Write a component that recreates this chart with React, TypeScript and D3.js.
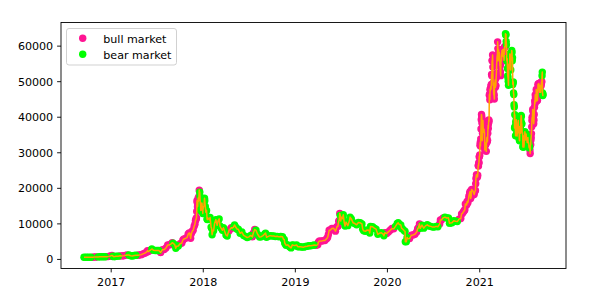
import React from "react";
import * as d3 from "d3";

// Bitcoin closing prices (date, USD)
const btcCloses: [string, number][] = [
  ["2016-09-15", 607], ["2016-09-22", 596], ["2016-09-29", 605], ["2016-10-06", 612],
  ["2016-10-13", 636], ["2016-10-20", 630], ["2016-10-27", 688], ["2016-11-03", 688],
  ["2016-11-10", 716], ["2016-11-17", 740], ["2016-11-24", 736], ["2016-12-01", 755],
  ["2016-12-08", 768], ["2016-12-15", 778], ["2016-12-22", 861], ["2016-12-29", 973],
  ["2017-01-04", 1130], ["2017-01-08", 908], ["2017-01-11", 780], ["2017-01-15", 822],
  ["2017-01-22", 922], ["2017-01-29", 920], ["2017-02-05", 1015], ["2017-02-12", 999],
  ["2017-02-19", 1050], ["2017-02-26", 1150], ["2017-03-05", 1270], ["2017-03-12", 1230],
  ["2017-03-19", 1020], ["2017-03-26", 965], ["2017-04-02", 1095], ["2017-04-09", 1180],
  ["2017-04-16", 1180], ["2017-04-23", 1240], ["2017-04-30", 1350], ["2017-05-07", 1570],
  ["2017-05-14", 1770], ["2017-05-21", 2040], ["2017-05-25", 2450], ["2017-05-28", 2200],
  ["2017-06-04", 2520], ["2017-06-11", 2950], ["2017-06-18", 2560], ["2017-06-25", 2500],
  ["2017-07-02", 2500], ["2017-07-09", 2500], ["2017-07-16", 1930], ["2017-07-23", 2750],
  ["2017-07-30", 2760], ["2017-08-06", 3230], ["2017-08-13", 4060], ["2017-08-20", 4090],
  ["2017-08-27", 4380], ["2017-08-31", 4700], ["2017-09-03", 4580], ["2017-09-10", 4120],
  ["2017-09-14", 3150], ["2017-09-17", 3700], ["2017-09-24", 3780], ["2017-10-01", 4400],
  ["2017-10-08", 4600], ["2017-10-12", 5430], ["2017-10-15", 5680], ["2017-10-22", 5930],
  ["2017-10-29", 6140], ["2017-11-02", 7100], ["2017-11-05", 7360], ["2017-11-08", 7460],
  ["2017-11-12", 5950], ["2017-11-15", 7320], ["2017-11-19", 8030], ["2017-11-22", 8200],
  ["2017-11-26", 9330], ["2017-11-29", 9900], ["2017-12-01", 10900], ["2017-12-03", 11200],
  ["2017-12-04", 11500], ["2017-12-05", 11700], ["2017-12-06", 13500], ["2017-12-07", 16500],
  ["2017-12-08", 16000], ["2017-12-09", 14800], ["2017-12-10", 15000], ["2017-12-11", 16700],
  ["2017-12-12", 17300], ["2017-12-13", 16400], ["2017-12-14", 16600], ["2017-12-15", 17700],
  ["2017-12-16", 19500], ["2017-12-17", 19140], ["2017-12-18", 18900], ["2017-12-19", 17700],
  ["2017-12-20", 16000], ["2017-12-21", 15500], ["2017-12-22", 13800], ["2017-12-23", 14600],
  ["2017-12-24", 14000], ["2017-12-25", 13900], ["2017-12-26", 15900], ["2017-12-27", 15800],
  ["2017-12-28", 14600], ["2017-12-29", 14700], ["2017-12-30", 12900], ["2017-12-31", 14100],
  ["2018-01-02", 14800], ["2018-01-04", 15200], ["2018-01-06", 17200], ["2018-01-07", 16500],
  ["2018-01-09", 14900], ["2018-01-11", 13300], ["2018-01-14", 13800], ["2018-01-16", 11400],
  ["2018-01-17", 11200], ["2018-01-19", 11700], ["2018-01-21", 11500], ["2018-01-25", 11200],
  ["2018-01-28", 11800], ["2018-02-01", 9100], ["2018-02-03", 8800], ["2018-02-05", 6950],
  ["2018-02-08", 8200], ["2018-02-11", 8100], ["2018-02-15", 10200], ["2018-02-20", 11200],
  ["2018-02-25", 9600], ["2018-03-01", 10900], ["2018-03-05", 11400], ["2018-03-08", 9400],
  ["2018-03-12", 8900], ["2018-03-18", 8200], ["2018-03-22", 8900], ["2018-03-26", 8100],
  ["2018-04-01", 6900], ["2018-04-06", 6600], ["2018-04-12", 7900], ["2018-04-15", 8350],
  ["2018-04-22", 8900], ["2018-04-25", 8800], ["2018-05-01", 9100], ["2018-05-05", 9700],
  ["2018-05-10", 9050], ["2018-05-15", 8500], ["2018-05-20", 8500], ["2018-05-27", 7350],
  ["2018-06-03", 7700], ["2018-06-10", 6750], ["2018-06-17", 6500], ["2018-06-24", 6150],
  ["2018-07-01", 6350], ["2018-07-08", 6750], ["2018-07-15", 6350], ["2018-07-18", 7350],
  ["2018-07-24", 8400], ["2018-07-29", 8200], ["2018-08-05", 7000], ["2018-08-12", 6300],
  ["2018-08-19", 6400], ["2018-08-26", 6700], ["2018-09-02", 7200], ["2018-09-05", 7400],
  ["2018-09-09", 6250], ["2018-09-16", 6500], ["2018-09-23", 6700], ["2018-09-30", 6600],
  ["2018-10-07", 6600], ["2018-10-14", 6450], ["2018-10-21", 6500], ["2018-10-28", 6350],
  ["2018-11-04", 6450], ["2018-11-11", 6400], ["2018-11-15", 5650], ["2018-11-18", 5600],
  ["2018-11-20", 4600], ["2018-11-22", 4400], ["2018-11-25", 4000], ["2018-12-02", 4100],
  ["2018-12-09", 3600], ["2018-12-15", 3250], ["2018-12-20", 4100], ["2018-12-24", 4000],
  ["2018-12-30", 3900],
  ["2019-01-06", 4050], ["2019-01-10", 3650], ["2019-01-13", 3550], ["2019-01-20", 3550],
  ["2019-01-27", 3500], ["2019-02-03", 3450], ["2019-02-10", 3650], ["2019-02-17", 3700],
  ["2019-02-24", 3850], ["2019-03-03", 3850], ["2019-03-10", 3950], ["2019-03-17", 4050],
  ["2019-03-24", 4000], ["2019-03-31", 4100], ["2019-04-03", 4950], ["2019-04-07", 5200],
  ["2019-04-14", 5150], ["2019-04-21", 5300], ["2019-04-28", 5300], ["2019-05-05", 5800],
  ["2019-05-09", 6200], ["2019-05-12", 7000], ["2019-05-15", 8200], ["2019-05-19", 8200],
  ["2019-05-26", 8700], ["2019-06-02", 8750], ["2019-06-09", 7950], ["2019-06-16", 9300],
  ["2019-06-19", 9300], ["2019-06-22", 10700], ["2019-06-24", 11000], ["2019-06-26", 12900],
  ["2019-06-28", 12400], ["2019-06-30", 10800], ["2019-07-03", 11900], ["2019-07-07", 11450],
  ["2019-07-10", 12550], ["2019-07-14", 10300], ["2019-07-17", 9400], ["2019-07-21", 10500],
  ["2019-07-28", 9500], ["2019-08-04", 11000], ["2019-08-06", 11900], ["2019-08-11", 11400],
  ["2019-08-18", 10300], ["2019-08-25", 10100], ["2019-09-01", 9750], ["2019-09-08", 10400],
  ["2019-09-15", 10300], ["2019-09-22", 10000], ["2019-09-25", 8500], ["2019-09-29", 8050],
  ["2019-10-06", 7900], ["2019-10-13", 8300], ["2019-10-20", 8200], ["2019-10-23", 7450],
  ["2019-10-26", 9250], ["2019-11-03", 9200], ["2019-11-10", 8800], ["2019-11-17", 8500],
  ["2019-11-24", 7050], ["2019-12-01", 7400], ["2019-12-08", 7500], ["2019-12-15", 7100],
  ["2019-12-18", 6650], ["2019-12-22", 7500], ["2019-12-29", 7300],
  ["2020-01-05", 7750], ["2020-01-12", 8200], ["2020-01-19", 8700], ["2020-01-26", 8600],
  ["2020-02-02", 9300], ["2020-02-09", 10100], ["2020-02-13", 10300], ["2020-02-16", 9900],
  ["2020-02-23", 9700], ["2020-02-26", 8800], ["2020-03-01", 8550], ["2020-03-08", 8050],
  ["2020-03-11", 7900], ["2020-03-12", 4970], ["2020-03-16", 5000], ["2020-03-19", 6200],
  ["2020-03-22", 5800], ["2020-03-29", 5900], ["2020-04-05", 6800], ["2020-04-12", 6900],
  ["2020-04-19", 7100], ["2020-04-26", 7700], ["2020-04-30", 8650], ["2020-05-03", 8900],
  ["2020-05-07", 9950], ["2020-05-10", 8750], ["2020-05-17", 9650], ["2020-05-24", 8800],
  ["2020-05-31", 9450], ["2020-06-07", 9750], ["2020-06-14", 9400], ["2020-06-21", 9300],
  ["2020-06-28", 9100], ["2020-07-05", 9100], ["2020-07-12", 9300], ["2020-07-19", 9200],
  ["2020-07-26", 9950], ["2020-07-29", 11100], ["2020-08-02", 11100], ["2020-08-09", 11700],
  ["2020-08-16", 11900], ["2020-08-23", 11650], ["2020-08-30", 11700], ["2020-09-03", 10200],
  ["2020-09-06", 10250], ["2020-09-13", 10300], ["2020-09-20", 10900], ["2020-09-27", 10750],
  ["2020-10-04", 10650], ["2020-10-11", 11350], ["2020-10-18", 11500], ["2020-10-21", 12800],
  ["2020-10-25", 13000], ["2020-10-29", 13500], ["2020-11-01", 13750], ["2020-11-03", 14000],
  ["2020-11-05", 15600], ["2020-11-08", 15450], ["2020-11-10", 15300], ["2020-11-12", 16300],
  ["2020-11-15", 15950], ["2020-11-17", 16700], ["2020-11-19", 17800], ["2020-11-22", 18700],
  ["2020-11-24", 19100], ["2020-11-26", 17150], ["2020-11-28", 17700], ["2020-11-30", 19700],
  ["2020-12-03", 19400], ["2020-12-06", 19150], ["2020-12-10", 18250], ["2020-12-13", 19150],
  ["2020-12-15", 19400], ["2020-12-16", 21300], ["2020-12-17", 22800], ["2020-12-19", 23800],
  ["2020-12-21", 23500], ["2020-12-23", 23200], ["2020-12-24", 23700], ["2020-12-26", 26400],
  ["2020-12-27", 26300], ["2020-12-28", 27000], ["2020-12-29", 27300], ["2020-12-30", 28800],
  ["2020-12-31", 29000],
  ["2021-01-01", 29400], ["2021-01-02", 32100], ["2021-01-03", 32900], ["2021-01-04", 31900],
  ["2021-01-05", 33900], ["2021-01-06", 36700], ["2021-01-07", 39300], ["2021-01-08", 40800],
  ["2021-01-09", 40200], ["2021-01-10", 38300], ["2021-01-11", 33400], ["2021-01-12", 35500],
  ["2021-01-13", 37300], ["2021-01-14", 39100], ["2021-01-15", 36800], ["2021-01-17", 35800],
  ["2021-01-18", 36600], ["2021-01-19", 36000], ["2021-01-20", 35500], ["2021-01-21", 30800],
  ["2021-01-22", 32900], ["2021-01-23", 32100], ["2021-01-24", 32300], ["2021-01-26", 32500],
  ["2021-01-27", 30400], ["2021-01-28", 33100], ["2021-01-29", 34300], ["2021-01-31", 33100],
  ["2021-02-01", 33500], ["2021-02-02", 35500], ["2021-02-03", 37700], ["2021-02-04", 36800],
  ["2021-02-05", 38300], ["2021-02-06", 39200], ["2021-02-07", 38900], ["2021-02-08", 46200],
  ["2021-02-09", 46500], ["2021-02-10", 44900], ["2021-02-11", 47900], ["2021-02-12", 47500],
  ["2021-02-14", 48700], ["2021-02-15", 47900], ["2021-02-16", 49200], ["2021-02-17", 52000],
  ["2021-02-18", 51700], ["2021-02-19", 55900], ["2021-02-20", 56000], ["2021-02-21", 57500],
  ["2021-02-22", 54100], ["2021-02-23", 48900], ["2021-02-24", 49700], ["2021-02-25", 47000],
  ["2021-02-26", 46300], ["2021-02-27", 46200], ["2021-02-28", 45100], ["2021-03-01", 49600],
  ["2021-03-02", 48400], ["2021-03-03", 50500], ["2021-03-04", 48400], ["2021-03-05", 48800],
  ["2021-03-06", 48900], ["2021-03-07", 51000], ["2021-03-08", 52300], ["2021-03-09", 54800],
  ["2021-03-10", 56000], ["2021-03-11", 57300], ["2021-03-12", 57300], ["2021-03-13", 61200],
  ["2021-03-14", 59300], ["2021-03-15", 55900], ["2021-03-16", 56800], ["2021-03-17", 58900],
  ["2021-03-18", 57700], ["2021-03-19", 58300], ["2021-03-20", 58100], ["2021-03-21", 57400],
  ["2021-03-22", 54500], ["2021-03-23", 54400], ["2021-03-24", 52800], ["2021-03-25", 51700],
  ["2021-03-26", 55100], ["2021-03-27", 55900], ["2021-03-28", 55900], ["2021-03-29", 57700],
  ["2021-03-30", 58800], ["2021-03-31", 58800], ["2021-04-01", 58700], ["2021-04-02", 59000],
  ["2021-04-03", 57100], ["2021-04-04", 58200], ["2021-04-05", 59100], ["2021-04-06", 58000],
  ["2021-04-07", 56000], ["2021-04-08", 58100], ["2021-04-09", 58000], ["2021-04-10", 59800],
  ["2021-04-11", 59900], ["2021-04-12", 59800], ["2021-04-13", 63500], ["2021-04-14", 63100],
  ["2021-04-15", 63300], ["2021-04-16", 61300], ["2021-04-17", 60400], ["2021-04-18", 56200],
  ["2021-04-19", 55800], ["2021-04-20", 56500], ["2021-04-21", 53700], ["2021-04-22", 51700],
  ["2021-04-23", 51100], ["2021-04-24", 50100], ["2021-04-25", 49000], ["2021-04-26", 54000],
  ["2021-04-27", 55000], ["2021-04-28", 54800], ["2021-04-29", 53600], ["2021-04-30", 57800],
  ["2021-05-01", 57800], ["2021-05-02", 56600], ["2021-05-03", 57200], ["2021-05-04", 53300],
  ["2021-05-05", 57200], ["2021-05-06", 56400], ["2021-05-07", 57400], ["2021-05-08", 58800],
  ["2021-05-09", 58200], ["2021-05-10", 55900], ["2021-05-11", 56700], ["2021-05-12", 49200],
  ["2021-05-13", 49700], ["2021-05-14", 49900], ["2021-05-15", 46800], ["2021-05-16", 46400],
  ["2021-05-17", 43500], ["2021-05-18", 42900], ["2021-05-19", 37000], ["2021-05-20", 40700],
  ["2021-05-21", 37300], ["2021-05-22", 37500], ["2021-05-23", 34800], ["2021-05-24", 38700],
  ["2021-05-25", 38400], ["2021-05-26", 39300], ["2021-05-27", 38400], ["2021-05-28", 35700],
  ["2021-05-29", 34700], ["2021-05-30", 35700], ["2021-05-31", 37300], ["2021-06-01", 36700],
  ["2021-06-02", 37600], ["2021-06-03", 39100], ["2021-06-04", 36900], ["2021-06-05", 35500],
  ["2021-06-06", 35800], ["2021-06-07", 33600], ["2021-06-08", 33400], ["2021-06-09", 37400],
  ["2021-06-10", 36700], ["2021-06-11", 37300], ["2021-06-12", 35500], ["2021-06-13", 39100],
  ["2021-06-14", 40500], ["2021-06-15", 40200], ["2021-06-16", 38300], ["2021-06-17", 38100],
  ["2021-06-18", 35800], ["2021-06-19", 35500], ["2021-06-20", 35600], ["2021-06-21", 31600],
  ["2021-06-22", 31700], ["2021-06-23", 32500], ["2021-06-24", 34700], ["2021-06-25", 31600],
  ["2021-06-26", 32200], ["2021-06-27", 34600], ["2021-06-28", 34500], ["2021-06-29", 35900],
  ["2021-06-30", 35000], ["2021-07-01", 33600], ["2021-07-02", 33800], ["2021-07-03", 34700],
  ["2021-07-04", 35300], ["2021-07-05", 33700], ["2021-07-06", 34200], ["2021-07-07", 33800],
  ["2021-07-08", 32900], ["2021-07-09", 33800], ["2021-07-10", 33800], ["2021-07-11", 34300],
  ["2021-07-12", 33100], ["2021-07-13", 32700], ["2021-07-14", 32800], ["2021-07-15", 31800],
  ["2021-07-16", 31400], ["2021-07-17", 31800], ["2021-07-18", 31800], ["2021-07-19", 30800],
  ["2021-07-20", 29800], ["2021-07-21", 32100], ["2021-07-22", 32300], ["2021-07-23", 33600],
  ["2021-07-24", 34300], ["2021-07-25", 35400], ["2021-07-26", 37300], ["2021-07-27", 39100],
  ["2021-07-28", 40000], ["2021-07-29", 40000], ["2021-07-30", 42200], ["2021-07-31", 41600],
  ["2021-08-01", 39900], ["2021-08-02", 39200], ["2021-08-03", 38200], ["2021-08-04", 39200],
  ["2021-08-05", 40800], ["2021-08-06", 42800], ["2021-08-07", 44600], ["2021-08-08", 43800],
  ["2021-08-09", 46300], ["2021-08-10", 45600], ["2021-08-11", 45600], ["2021-08-12", 44400],
  ["2021-08-13", 47800], ["2021-08-14", 47100], ["2021-08-15", 47000], ["2021-08-16", 46000],
  ["2021-08-17", 44700], ["2021-08-18", 44800], ["2021-08-19", 46800], ["2021-08-20", 49300],
  ["2021-08-21", 48900], ["2021-08-22", 49300], ["2021-08-23", 49500], ["2021-08-24", 47700],
  ["2021-08-25", 48900], ["2021-08-26", 47000], ["2021-08-27", 49000], ["2021-08-28", 49000],
  ["2021-08-29", 48800], ["2021-08-30", 47000], ["2021-08-31", 47100], ["2021-09-01", 48800],
  ["2021-09-02", 49300], ["2021-09-03", 50000], ["2021-09-04", 50000], ["2021-09-05", 51700],
  ["2021-09-06", 52700], ["2021-09-07", 46800], ["2021-09-08", 46100], ["2021-09-09", 46400],
];

// Market regime from each start date onward
const regimeStarts: [string, "bull" | "bear"][] = [
  ["2016-09-01", "bear"], ["2016-10-15", "bull"], ["2016-11-05", "bear"], ["2016-12-10", "bull"],
  ["2017-01-05", "bear"], ["2017-02-01", "bull"], ["2017-03-12", "bear"], ["2017-04-10", "bull"],
  ["2017-06-10", "bear"], ["2017-07-15", "bull"], ["2017-09-02", "bear"], ["2017-09-25", "bull"],
  ["2017-12-18", "bear"], ["2018-04-10", "bull"], ["2018-04-26", "bear"], ["2018-07-15", "bull"],
  ["2018-07-28", "bear"], ["2019-03-20", "bull"], ["2019-06-27", "bear"], ["2019-12-20", "bull"],
  ["2020-02-01", "bear"], ["2020-03-20", "bull"], ["2020-05-10", "bear"], ["2020-07-22", "bull"],
  ["2020-08-15", "bear"], ["2020-10-08", "bull"], ["2021-04-13", "bear"], ["2021-07-18", "bull"],
  ["2021-09-05", "bear"],
];

const legendLabels = ["bull market", "bear market"];
const yTicks = [0, 10000, 20000, 30000, 40000, 50000, 60000];
const xTickYears = [2017, 2018, 2019, 2020, 2021];

const W = 606;
const H = 300;
const left = 61, right = 566, top = 22.5, bottom = 268.5;
const FONT = "'DejaVu Sans', sans-serif";
const PINK = "#ff1493";
const LIME = "#00ff00";
const ORANGE = "#ffa500";

export default function App() {
  const parse = d3.timeParse("%Y-%m-%d");
  const pts = btcCloses
    .map(([d, v]) => ({ date: parse(d)!, value: v }))
    .sort((a, b) => +a.date - +b.date);
  const regs = regimeStarts.map(([d, r]) => ({ date: parse(d)!, r }));
  const regimeOf = (dt: Date) => {
    let r = regs[0].r;
    for (const g of regs) if (g.date <= dt) r = g.r;
    return r;
  };
  const data = pts.map((p) => ({ ...p, regime: regimeOf(p.date) }));

  const [t0, t1] = d3.extent(data, (d) => +d.date) as [number, number];
  const tp = (t1 - t0) * 0.05;
  const x = d3.scaleTime().domain([new Date(t0 - tp), new Date(t1 + tp)]).range([left, right]);
  const [v0, v1] = d3.extent(data, (d) => d.value) as [number, number];
  const vp = (v1 - v0) * 0.05;
  const y = d3.scaleLinear().domain([v0 - vp, v1 + vp]).range([bottom, top]);

  const line = d3.line<typeof data[0]>().x((d) => x(d.date)).y((d) => y(d.value));
  const r = 3.7;

  return (
    <svg width={W} height={H} style={{ position: "fixed", left: 0, top: 0, background: "#fff" }} fontFamily={FONT}>
      <rect x={0} y={0} width={W} height={H} fill="#fff" />
      {data.filter((d) => d.regime === "bull").map((d, i) => (
        <circle key={"b" + i} cx={x(d.date)} cy={y(d.value)} r={r} fill={PINK} />
      ))}
      {data.filter((d) => d.regime === "bear").map((d, i) => (
        <circle key={"g" + i} cx={x(d.date)} cy={y(d.value)} r={r} fill={LIME} />
      ))}
      <path d={line(data)!} fill="none" stroke={ORANGE} strokeWidth={1.5} strokeLinejoin="round" />

      <rect x={left} y={top} width={right - left} height={bottom - top} fill="none" stroke="#000" strokeWidth={0.9} />

      {yTicks.map((t) => (
        <g key={t}>
          <line x1={left - 3.9} x2={left} y1={y(t)} y2={y(t)} stroke="#000" strokeWidth={0.9} />
          <text x={left - 7.8} y={y(t) + 4} textAnchor="end" fontSize={11.1} fill="#000">{t}</text>
        </g>
      ))}
      {xTickYears.map((yr) => {
        const px = x(new Date(yr, 0, 1));
        return (
          <g key={yr}>
            <line x1={px} x2={px} y1={bottom} y2={bottom + 3.9} stroke="#000" strokeWidth={0.9} />
            <text x={px} y={bottom + 17.5} textAnchor="middle" fontSize={11.1} fill="#000">{yr}</text>
          </g>
        );
      })}

      <g>
        <rect x={66.5} y={28.5} width={110} height={36.5} rx={2.5} fill="#fff" fillOpacity={0.8} stroke="#cccccc" strokeWidth={0.9} />
        {legendLabels.map((lab, i) => (
          <g key={lab}>
            <circle cx={82.7} cy={38.3 + i * 16} r={r} fill={i === 0 ? PINK : LIME} />
            <text x={103.3} y={42.5 + i * 16} fontSize={11.1} fill="#000">{lab}</text>
          </g>
        ))}
      </g>
    </svg>
  );
}
